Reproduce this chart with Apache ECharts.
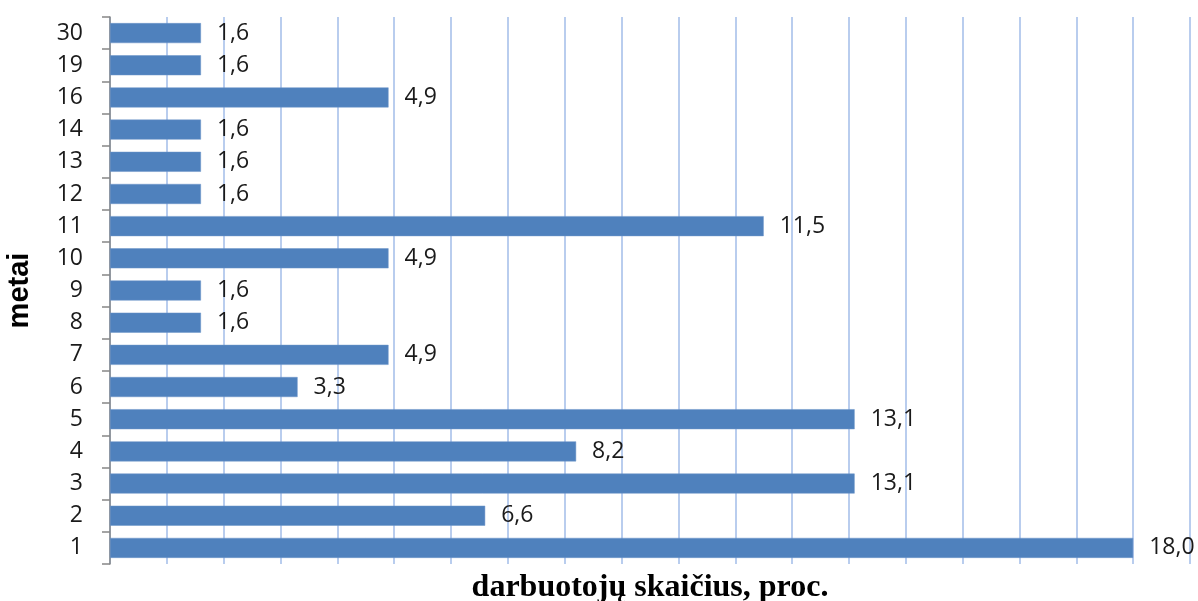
<!DOCTYPE html>
<html>
<head>
<meta charset="utf-8">
<script src="https://cdn.jsdelivr.net/npm/echarts@6/dist/echarts.min.js"></script>
<style>
  html, body { margin: 0; padding: 0; background: #fff; }
  #chart { width: 1198px; height: 601px; }
</style>
</head>
<body>
<div id="chart"></div>
<script>
// Darbo stažas (metai), nuo apačios į viršų
const categories = ['1', '2', '3', '4', '5', '6', '7', '8', '9', '10', '11', '12', '13', '14', '16', '19', '30'];
// Darbuotojų dalis, proc.
const values = [18.0, 6.6, 13.1, 8.2, 13.1, 3.3, 4.9, 1.6, 1.6, 4.9, 11.5, 1.6, 1.6, 1.6, 4.9, 1.6, 1.6];

const xAxisTitle = 'darbuotojų skaičius, proc.';
const yAxisTitle = 'metai';

const chart = echarts.init(document.getElementById('chart'), null, { renderer: 'canvas' });

const fmt = v => v.toFixed(1).replace('.', ',');

chart.setOption({
  animation: false,
  backgroundColor: '#ffffff',
  grid: { left: 110, right: 8, top: 17, bottom: 37, containLabel: false, outerBoundsMode: 'none' },
  xAxis: {
    type: 'value',
    min: 0,
    max: 19,
    interval: 1,
    axisLine: { show: false },
    axisTick: { show: false },
    axisLabel: { show: false },
    splitLine: { show: true, lineStyle: { color: '#b9cdee', width: 2 } },
    name: xAxisTitle,
    nameLocation: 'middle',
    nameGap: 8,
    nameTextStyle: {
      fontFamily: 'Liberation Serif',
      fontWeight: 'bold',
      fontSize: 32,
      color: '#000',
      verticalAlign: 'top'
    }
  },
  yAxis: {
    type: 'category',
    data: categories,
    axisLine: { show: true, lineStyle: { color: '#868686', width: 1.5 } },
    axisTick: { show: true, length: 8, lineStyle: { color: '#868686', width: 1.5 } },
    axisLabel: {
      margin: 27,
      fontFamily: 'Open Sans',
      fontSize: 23,
      color: '#1a1a1a'
    },
    splitLine: { show: false },
    name: yAxisTitle,
    nameLocation: 'middle',
    nameRotate: 90,
    nameGap: 76,
    nameTextStyle: {
      fontFamily: 'Liberation Sans',
      fontWeight: 'bold',
      fontSize: 29,
      color: '#000'
    }
  },
  series: [{
    type: 'bar',
    data: values,
    barWidth: 20,
    itemStyle: { color: '#4f81bd', borderColor: '#6d95c9', borderWidth: 0.5 },
    label: {
      show: true,
      position: 'right',
      distance: 16,
      formatter: p => fmt(p.value),
      fontFamily: 'Open Sans',
      fontSize: 23,
      color: '#1a1a1a'
    }
  }]
});
</script>
</body>
</html>
